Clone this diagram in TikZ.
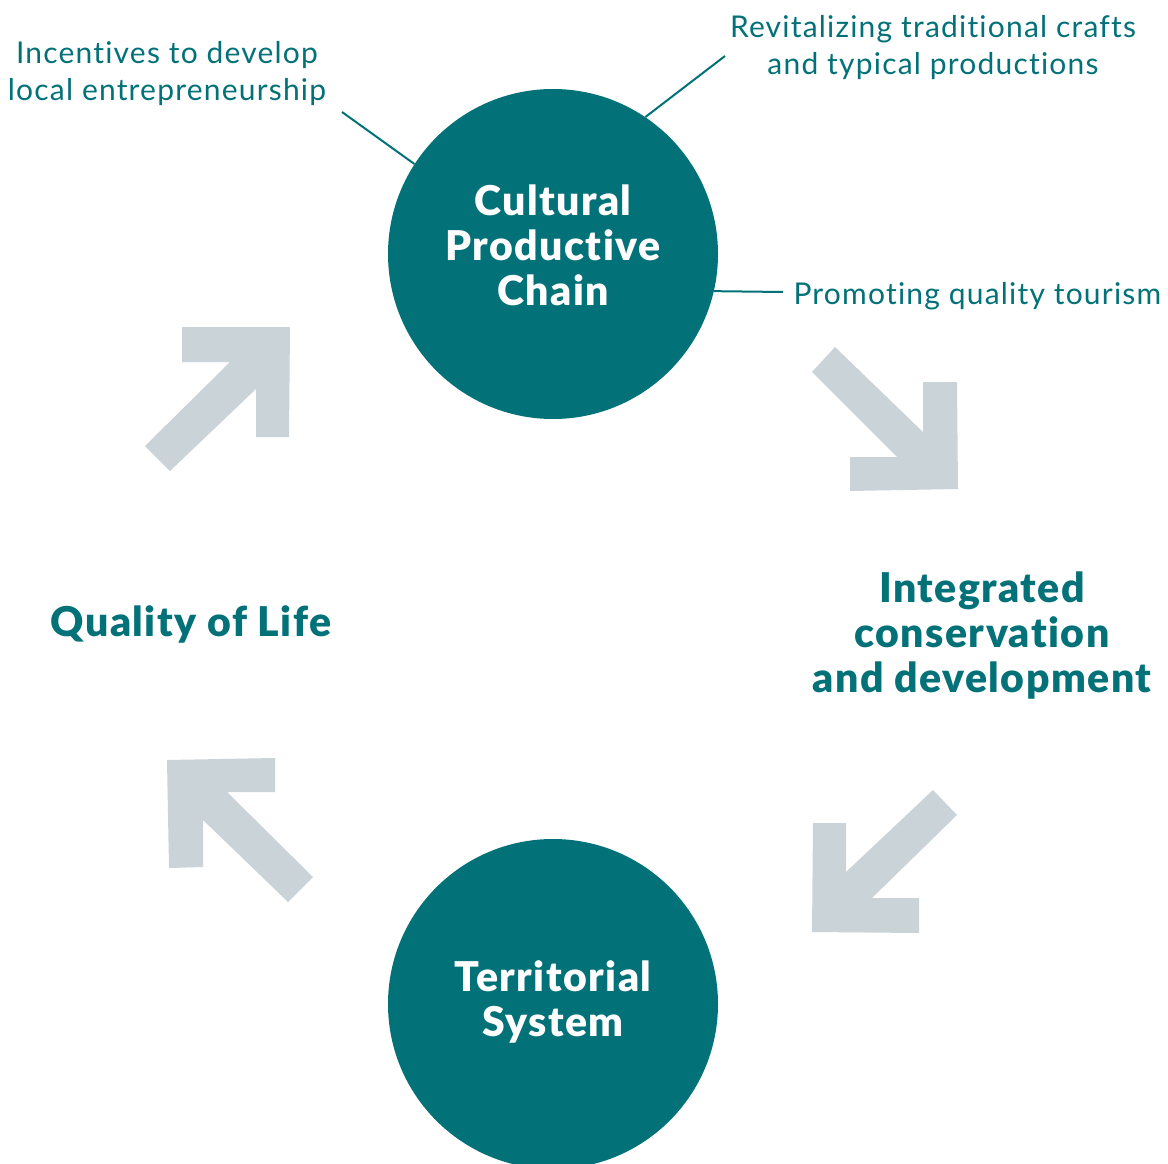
\documentclass[tikz,border=0pt]{standalone}
\usepackage{fontspec}
\setmainfont{Lato}[Ligatures=NoCommon]
\newfontfamily\heavyfont{Lato Black}[Ligatures=NoCommon,LetterSpace=3.5]
\newfontfamily\lightfont{Lato}[Ligatures=NoCommon,LetterSpace=4]
\definecolor{teal1}{RGB}{3,113,120}
\definecolor{arrowgray}{RGB}{201,211,216}
\begin{document}
\begin{tikzpicture}[x=1pt,y=-1pt,
  hub/.style={circle,fill=teal1,minimum size=330pt,inner sep=0pt},
  hubtext/.style={text=white,align=center,font=\heavyfont\fontsize{41}{45}\selectfont},
  headtext/.style={text=teal1,align=center,font=\heavyfont\fontsize{41}{45}\selectfont},
  smalltext/.style={text=teal1,align=center,font=\lightfont\fontsize{30}{37}\selectfont},
  leader/.style={draw=teal1,line width=2pt},
  bigarrow/.style={fill=arrowgray}]
\useasboundingbox (0,0) rectangle (1168,1164);
% circles
\node[hub] (c1) at (553,254) {};
\node[hub] (c2) at (553,1004) {};
\node[hubtext] (t1) at (553,245) {Cultural\\Productive\\Chain};
\node[hubtext] (t2) at (553,1002) {Territorial\\System};
% side headings
\node[headtext] (q) at (191,624) {Quality of Life};
\node[headtext] (ic) at (982,636) {Integrated\\conservation\\and development};
% annotations
\node[smalltext] (a1) at (167,74) {Incentives to develop\\local entrepreneurship};
\node[smalltext] (a2) at (933,48) {Revitalizing traditional crafts\\and typical productions};
\node[smalltext,anchor=west] (a3) at (790,296) {Promoting quality tourism};
\coordinate (e1) at (342,112);
\coordinate (e2) at (725,56);
\coordinate (e3) at (783,292);
\draw[leader] (e1) -- (c1.147.5);
\draw[leader] (e2) -- (c1.56);
\draw[leader] (e3) -- (c1.-13.7);
% arrows
\fill[bigarrow] (182,327) -- (290,327) -- (289,437) -- (256,437) -- (256,389) -- (170,471) -- (145,446) -- (230,362) -- (182,362) -- cycle;
\fill[bigarrow] (812,372) -- (835,347) -- (923,432) -- (923,382) -- (957,382) -- (958,489) -- (850,491) -- (850,457) -- (897,457) -- cycle;
\fill[bigarrow] (933,790) -- (957,815) -- (872,898) -- (919,898) -- (919,933) -- (812,932) -- (813,823) -- (846,823) -- (846,872) -- cycle;
\fill[bigarrow] (167,760) -- (275,758) -- (275,792) -- (227,792) -- (313,877) -- (288,902) -- (203,820) -- (203,867) -- (169,868) -- cycle;
\end{tikzpicture}
\end{document}
